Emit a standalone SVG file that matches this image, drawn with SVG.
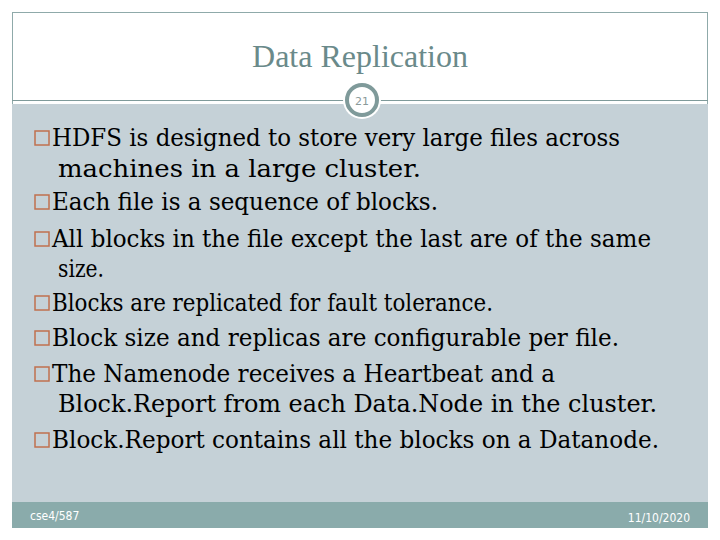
<svg xmlns="http://www.w3.org/2000/svg" width="720" height="540" viewBox="0 0 720 540">
<style>
.b{fill:none;stroke:#c0704f;stroke-width:1.5}
.t{font-family:"DejaVu Serif","Liberation Serif",serif;font-size:24px;fill:#000}
</style>
<rect width="720" height="540" fill="#fff"/>
<rect x="12.5" y="12.5" width="695" height="515" fill="none" stroke="#8faaaa"/>
<rect x="12" y="104" width="696" height="398" fill="#c5d1d7"/>
<rect x="12" y="502" width="696" height="26" fill="#8aabab"/>
<line x1="12" y1="100.5" x2="708" y2="100.5" stroke="#7f9a9a"/>
<g id="badge">
<circle cx="362" cy="100" r="19" fill="#fff"/>
<circle cx="362" cy="100" r="15" fill="#fff" stroke="#7f9a9a" stroke-width="4"/>
<text x="362" y="105" text-anchor="middle" font-family="DejaVu Sans,sans-serif" font-size="11" fill="#8a9a9a">21</text>
</g>
<text x="360" y="67" text-anchor="middle" font-family="Liberation Serif,serif" font-size="32" fill="#6a8a8a">Data Replication</text>
<g id="bullets">
<rect class="b" x="35" y="131" width="14" height="14"/>
<rect class="b" x="35" y="195" width="14" height="14"/>
<rect class="b" x="35" y="232" width="14" height="14"/>
<rect class="b" x="35" y="296" width="14" height="14"/>
<rect class="b" x="35" y="331" width="14" height="14"/>
<rect class="b" x="35" y="367" width="14" height="14"/>
<rect class="b" x="35" y="433" width="14" height="14"/>
</g>
<g id="text">
<text class="t" x="52" y="146" textLength="568" lengthAdjust="spacingAndGlyphs">HDFS is designed to store very large files across</text>
<text class="t" x="58" y="177" textLength="363" lengthAdjust="spacingAndGlyphs">machines in a large cluster.</text>
<text class="t" x="52" y="210" textLength="386" lengthAdjust="spacingAndGlyphs">Each file is a sequence of blocks.</text>
<text class="t" x="52" y="247" textLength="599" lengthAdjust="spacingAndGlyphs">All blocks in the file except the last are of the same</text>
<text class="t" x="58" y="277" textLength="46" lengthAdjust="spacingAndGlyphs">size.</text>
<text class="t" x="52" y="311" textLength="441" lengthAdjust="spacingAndGlyphs">Blocks are replicated for fault tolerance.</text>
<text class="t" x="52" y="346" textLength="567" lengthAdjust="spacingAndGlyphs">Block size and replicas are configurable per file.</text>
<text class="t" x="52" y="382" textLength="503" lengthAdjust="spacingAndGlyphs">The Namenode receives a Heartbeat and a</text>
<text class="t" x="58" y="412" textLength="599" lengthAdjust="spacingAndGlyphs">Block.Report from each Data.Node in the cluster.</text>
<text class="t" x="52" y="448" textLength="607" lengthAdjust="spacingAndGlyphs">Block.Report contains all the blocks on a Datanode.</text>
</g>
<text x="30" y="520" font-family="DejaVu Sans Condensed,DejaVu Sans,sans-serif" font-size="12" fill="#fff">cse4/587</text>
<text x="690" y="522" text-anchor="end" font-family="DejaVu Sans Condensed,DejaVu Sans,sans-serif" font-size="12" fill="#fff">11/10/2020</text>
</svg>
